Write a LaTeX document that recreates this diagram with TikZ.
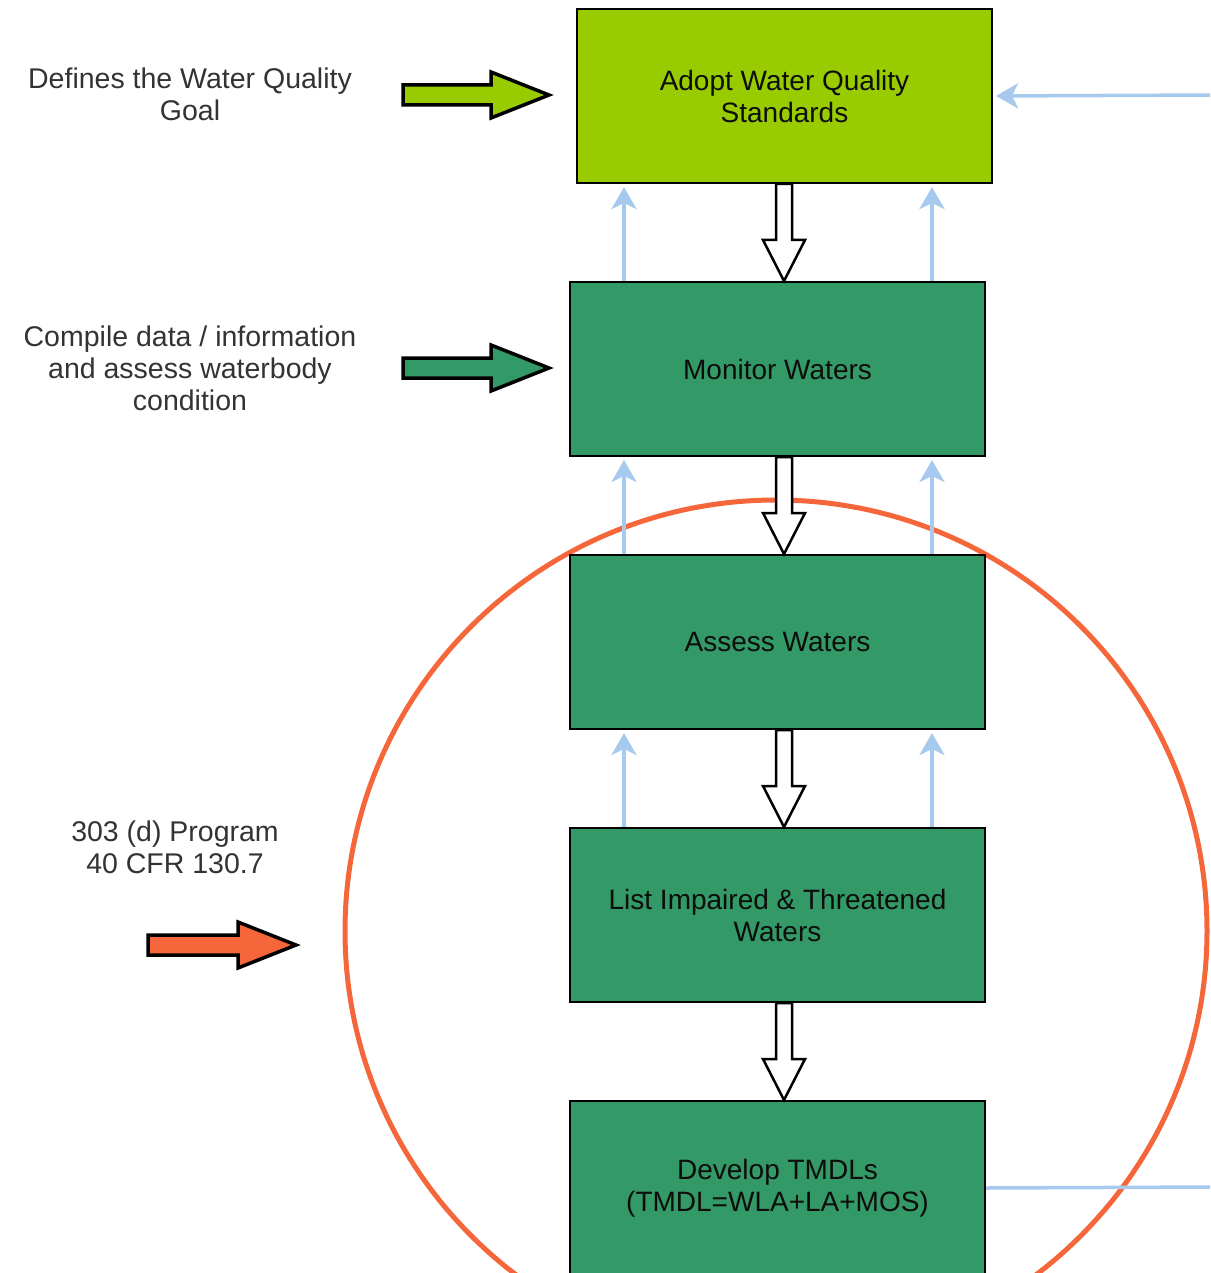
\documentclass[tikz,border=0pt]{standalone}
\usepackage{fontspec}
\setmainfont{Liberation Sans}
\usetikzlibrary{arrows.meta,calc}
\definecolor{limegreen}{HTML}{99CC00}
\definecolor{seagreen}{HTML}{339966}
\definecolor{orng}{HTML}{F5673A}
\definecolor{skyblue}{HTML}{A6C9EE}
\definecolor{txtgray}{HTML}{333333}
\newcommand\hollowdown[2]{%
  \draw[hollowarr] ($(#1)+(-8,0)$) -- ($(#2)+(-8,-41)$) -- ($(#2)+(-21,-41)$) -- (#2)
    -- ($(#2)+(21,-41)$) -- ($(#2)+(8,-41)$) -- ($(#1)+(8,0)$) -- cycle;}
\newcommand\rightblock[3]{%
  \draw[blockarr, fill=#1] ($(#2)+(0,-10)$) -- ($(#3)+(-58,-10)$) -- ($(#3)+(-58,-23)$) -- (#3)
    -- ($(#3)+(-58,23)$) -- ($(#3)+(-58,10)$) -- ($(#2)+(0,10)$) -- cycle;}
\begin{document}
\begin{tikzpicture}[x=1pt,y=-1pt,
  stagebox/.style={draw=black, line width=2pt, minimum width=415pt, minimum height=174pt,
    anchor=north west, align=center, inner sep=0pt, font=\fontsize{28}{32}\selectfont, text=black!95},
  sidetext/.style={align=center, text=txtgray, font=\fontsize{28.5}{32}\selectfont},
  feedback/.style={draw=skyblue, line width=3.5pt, -{Stealth[length=22pt,width=25pt,inset=6pt]}, shorten >=3pt},
  hollowarr/.style={draw=black, line width=2.5pt, fill=white, line join=miter},
  blockarr/.style={draw=black, line width=3.5pt, line join=miter},
  scopering/.style={draw=orng, line width=5pt, circle, minimum size=862pt, inner sep=0pt}]
\useasboundingbox (0,0) rectangle (1210,1273);
\clip (0,0) rectangle (1210,1273);
% scope circle
\node[scopering] (ring) at (776,931) {};
% stage boxes
\node[stagebox, fill=limegreen] (adopt) at (576,8) {Adopt Water Quality\\Standards\hspace*{0pt}};
\node[stagebox, fill=seagreen] (monitor) at (569,281) {Monitor Waters};
\node[stagebox, fill=seagreen] (assess) at (569,554) {Assess Waters};
\node[stagebox, fill=seagreen] (list) at (569,827) {List Impaired \& Threatened\\Waters};
\node[stagebox, fill=seagreen] (develop) at (569,1100) {Develop TMDLs\\(TMDL=WLA+LA+MOS)};
% axis coordinates
\coordinate (axis) at (784,0);
\coordinate (fbl) at (624,0);
\coordinate (fbr) at (932,0);
% hollow down arrows
\hollowdown{axis |- adopt.south}{axis |- monitor.north}
\hollowdown{axis |- monitor.south}{axis |- assess.north}
\hollowdown{axis |- assess.south}{axis |- list.north}
\hollowdown{axis |- list.south}{axis |- develop.north}
% feedback arrows
\foreach \lo/\hi in {monitor/adopt, assess/monitor, list/assess}{
  \draw[feedback] (\lo.north -| fbl) -- (\hi.south -| fbl);
  \draw[feedback] (\lo.north -| fbr) -- (\hi.south -| fbr);
}
\coordinate (inR) at (1215,95);
\draw[feedback] (inR) -- (adopt.east);
\coordinate (outR) at (1215,1187);
\draw[draw=skyblue, line width=3.5pt] (develop.east) -- (outR);
% side texts
\node[sidetext] (goal) at (190,94) {Defines the Water Quality\\Goal};
\node[sidetext] (compile) at (190,368) {Compile data / information\\and assess waterbody\\condition};
\node[sidetext] (prog) at (175,847) {303 (d) Program\\40 CFR 130.7};
% side block arrows
\coordinate (g1t) at (403,95);
\coordinate (g1h) at (549,95);
\coordinate (g2t) at (403,368);
\coordinate (g2h) at (549,368);
\coordinate (g3t) at (148,945);
\coordinate (g3h) at (296,945);
\rightblock{limegreen}{g1t}{g1h}
\rightblock{seagreen}{g2t}{g2h}
\rightblock{orng}{g3t}{g3h}
\end{tikzpicture}
\end{document}
